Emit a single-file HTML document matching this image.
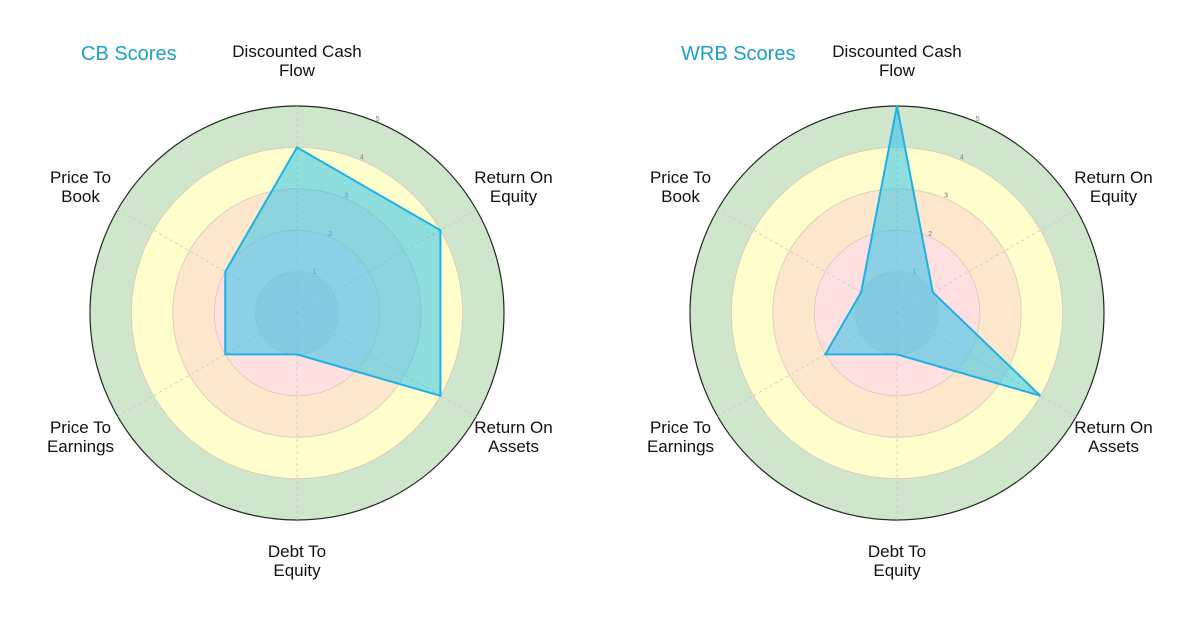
<!DOCTYPE html>
<html><head><meta charset="utf-8"><style>
html,body{margin:0;padding:0;background:#fff;}
svg{display:block;font-family:"Liberation Sans","DejaVu Sans",sans-serif;}
</style></head><body>
<svg id="chart" width="1200" height="625" viewBox="0 0 1200 625"></svg>
<script>
const categories = ["Discounted Cash\nFlow","Return On\nEquity","Return On\nAssets","Debt To\nEquity","Price To\nEarnings","Price To\nBook"];
const cbValues = [4,4,4,1,2,2];
const wrbValues = [5,1,4,1,2,1];
const titles = ["CB Scores","WRB Scores"];
const tickLabels = ["1","2","3","4","5"];
const NS="http://www.w3.org/2000/svg";
const svg=document.getElementById('chart');
function mk(tag,attrs,parent){const e=document.createElementNS(NS,tag);for(const k in attrs)e.setAttribute(k,attrs[k]);(parent||svg).appendChild(e);return e;}
const R=207, maxV=5;
function rScale(v){return v/maxV*R;}
function ang(i){return Math.PI/2 - i*2*Math.PI/categories.length;}
function pt(cx,cy,i,v){const a=ang(i);return [cx+rScale(v)*Math.cos(a), cy-rScale(v)*Math.sin(a)];}
function drawRadar(cx,cy,vals,title,key){
  const g=mk('g',{});
  
  
  const bands=[[5,'#cfe5cc'],[4,'#fefecd'],[3,'#fde8cd'],[2,'#fde0df'],[1,'#e9d3d6']];
  bands.forEach(b=>{const c=mk('circle',{cx:cx,cy:cy,r:rScale(b[0]),fill:b[1]},g);
    });
  [1,2,3,4].forEach(v=>{const c=mk('circle',{cx:cx,cy:cy,r:rScale(v),fill:'none',stroke:'#d8c8b8','stroke-width':0.8},g);
    });
  const oc=mk('circle',{cx:cx,cy:cy,r:R,fill:'none',stroke:'#1a2a1a','stroke-width':1.2},g);
  
  categories.forEach((c,i)=>{const p=pt(cx,cy,i,maxV);
    const l=mk('line',{x1:cx,y1:cy,x2:p[0],y2:p[1],stroke:'#c8c8c8','stroke-width':0.8,'stroke-dasharray':'3,3'},g);
    });
  tickLabels.forEach((t,k)=>{const v=k+1;const a=Math.PI/2-Math.PI/8;const rr=rScale(v)+4;
    const tx=mk('text',{x:cx+rr*Math.cos(a),y:cy-rr*Math.sin(a)+3,'font-size':7,fill:'#777','text-anchor':'middle'},g);
    tx.textContent=t;});
  const pts=vals.map((v,i)=>pt(cx,cy,i,v).join(',')).join(' ');
  const poly=mk('polygon',{points:pts,fill:'rgba(50,195,235,0.55)',stroke:'#1fb0e6','stroke-width':2,'stroke-linejoin':'miter'},g);
  
  categories.forEach((c,i)=>{const a=ang(i);const lr=250;
    let x=cx+lr*Math.cos(a), y=cy-lr*Math.sin(a);
    if(i===0){y=cy-251;}
    if(i===3){y=cy+249;}
    const lines=c.split('\n');
    const t=mk('text',{x:x,y:y-5,'font-size':17,fill:'#111','text-anchor':'middle'},g);
    lines.forEach((ln,j)=>{const ts=mk('tspan',{x:x,dy:j===0?0:19},t);ts.textContent=ln;});
    });
  const tt=mk('text',{x:cx-216,y:60,'font-size':20,fill:'#1a9fcc'},g);
  tt.textContent=title;
}
drawRadar(297,313,cbValues,titles[0],'cb');
drawRadar(897,313,wrbValues,titles[1],'wrb');
</script>
</body></html>
